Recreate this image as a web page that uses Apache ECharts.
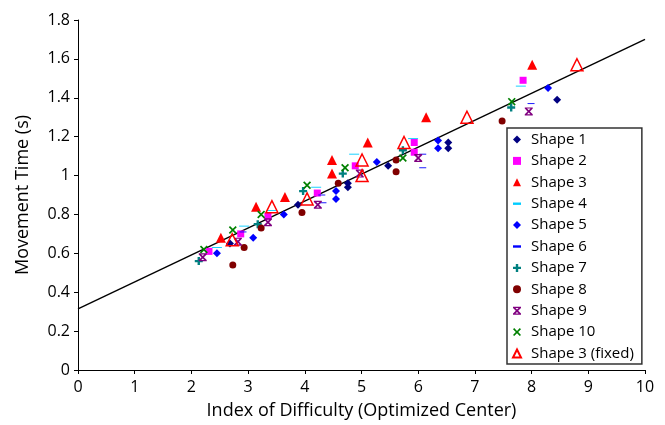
<!DOCTYPE html>
<html>
<head>
<meta charset="utf-8">
<script src="https://cdn.jsdelivr.net/npm/echarts@6/dist/echarts.min.js"></script>
<style>
html, body { margin: 0; padding: 0; background: #fff; }
#main { width: 665px; height: 425px; }
</style>
</head>
<body>
<div id="main"></div>
<script>
// data: [index of difficulty, movement time]
var shape1 = [[2.68,0.65],[3.88,0.85],[4.76,0.96],[4.76,0.94],[5.47,1.05],[6.53,1.17],[6.53,1.14],[8.45,1.39]];
var shape2 = [[2.31,0.61],[2.87,0.70],[3.35,0.79],[4.22,0.91],[4.89,1.05],[5.93,1.17],[5.93,1.12],[7.85,1.49]];
var shape3 = [[2.52,0.68],[3.14,0.84],[3.65,0.89],[4.48,1.08],[4.48,1.01],[5.11,1.17],[6.14,1.30],[8.01,1.57]];
var shape4 = [[2.45,0.63],[2.93,0.74],[3.42,0.82],[4.20,0.94],[4.87,1.11],[5.91,1.19],[7.81,1.46]];
var shape5 = [[2.45,0.60],[3.09,0.68],[3.63,0.80],[4.55,0.92],[4.55,0.88],[5.27,1.07],[6.35,1.18],[6.35,1.14],[8.29,1.45]];
var shape6 = [[2.91,0.71],[4.30,0.90],[4.32,0.86],[6.08,1.11],[6.08,1.04],[7.99,1.37]];
var shape7 = [[2.13,0.56],[3.17,0.75],[3.97,0.92],[4.67,1.01],[5.73,1.13],[7.64,1.35]];
var shape8 = [[2.73,0.54],[2.93,0.63],[3.23,0.73],[3.95,0.81],[4.59,0.96],[5.61,1.08],[5.61,1.02],[7.48,1.28]];
var shape9 = [[2.20,0.58],[2.82,0.66],[3.35,0.76],[4.23,0.85],[4.97,1.01],[6.00,1.09],[7.95,1.33]];
var shape10 = [[2.22,0.62],[2.73,0.72],[3.23,0.80],[4.04,0.95],[4.71,1.04],[5.73,1.09],[7.65,1.38]];
var shape3fixed = [[2.72,0.67],[3.42,0.84],[4.04,0.88],[5.01,1.08],[5.01,1.00],[5.75,1.17],[6.86,1.30],[8.80,1.57]];
var trend = [[0,0.314],[10,1.70]];

var dashPath = 'path://M0,0H10V3H0Z';
var plusPath = 'path://M3.5,0H6.5V3.5H10V6.5H6.5V10H3.5V6.5H0V3.5H3.5Z';
var xPath = 'path://M0,1.5L1.5,0L5,3.5L8.5,0L10,1.5L6.5,5L10,8.5L8.5,10L5,6.5L1.5,10L0,8.5L3.5,5Z';
var starPath = 'path://M0,0H10V1.5H0Z M0,8.5H10V10H0Z M0,1.5L1.5,0L5,3.5L8.5,0L10,1.5L6.5,5L10,8.5L8.5,10L5,6.5L1.5,10L0,8.5L3.5,5Z';

var myChart = echarts.init(document.getElementById('main'));

function pts(name, data, symbol, size, color, extra) {
    var s = {
        name: name,
        type: 'scatter',
        data: data,
        symbol: symbol,
        symbolSize: size,
        symbolKeepAspect: true,
        itemStyle: { color: color, opacity: 1 },
        z: 3
    };
    if (extra) { Object.assign(s, extra); }
    return s;
}

var option = {
    animation: false,
    textStyle: { fontFamily: 'Open Sans' },
    grid: { left: 78, right: 20, top: 20, bottom: 55 },
    xAxis: {
        type: 'value',
        min: 0, max: 10, interval: 1,
        name: 'Index of Difficulty (Optimized Center)',
        nameLocation: 'middle',
        nameGap: 32,
        nameTextStyle: { fontSize: 18, color: '#000' },
        axisLine: { lineStyle: { color: '#000', width: 1 } },
        axisTick: { length: 4, lineStyle: { color: '#000' } },
        axisLabel: { fontSize: 16, color: '#000', margin: 9 },
        splitLine: { show: false }
    },
    yAxis: {
        type: 'value',
        min: 0, max: 1.8, interval: 0.2,
        name: 'Movement Time (s)',
        nameLocation: 'middle',
        nameRotate: 90,
        nameGap: 46,
        nameTextStyle: { fontSize: 18, color: '#000' },
        axisLine: { show: true, lineStyle: { color: '#000', width: 1 } },
        axisTick: { show: true, length: 4, lineStyle: { color: '#000' } },
        axisLabel: { fontSize: 16, color: '#000', margin: 8 },
        splitLine: { show: false }
    },
    legend: {
        orient: 'vertical',
        left: 507,
        top: 128,
        padding: [4, 8, 3, 5],
        itemGap: 6.4,
        itemWidth: 8,
        itemHeight: 8,
        borderColor: '#333',
        borderWidth: 1.5,
        backgroundColor: '#fff',
        textStyle: { fontSize: 15, color: '#000', padding: [0, 0, 0, 5] },
        data: ['Shape 1','Shape 2','Shape 3','Shape 4','Shape 5','Shape 6','Shape 7','Shape 8','Shape 9','Shape 10','Shape 3 (fixed)']
    },
    series: [
        {
            name: 'trend',
            type: 'line',
            data: trend,
            symbol: 'none',
            lineStyle: { color: '#000', width: 1.4 },
            z: 2
        },
        pts('Shape 1', shape1, 'diamond', 8, '#000080'),
        pts('Shape 2', shape2, 'rect', 7, '#ff00ff'),
        pts('Shape 3', shape3, 'triangle', 10, '#ff0000'),
        pts('Shape 4', shape4, dashPath, [10, 3], '#00ccff'),
        pts('Shape 5', shape5, 'diamond', 8, '#0000ff'),
        pts('Shape 6', shape6, dashPath, [7, 3], '#0000ff'),
        pts('Shape 7', shape7, plusPath, 8, '#008080'),
        pts('Shape 8', shape8, 'circle', 7, '#800000'),
        pts('Shape 9', shape9, starPath, 8, '#800080'),
        pts('Shape 10', shape10, xPath, 8, '#008000'),
        pts('Shape 3 (fixed)', shape3fixed, 'triangle', 12, 'rgba(0,0,0,0)', {
            itemStyle: { color: 'rgba(0,0,0,0)', borderColor: '#ff0000', borderWidth: 1.5, opacity: 1 }
        })
    ]
};

myChart.setOption(option);
</script>
</body>
</html>
